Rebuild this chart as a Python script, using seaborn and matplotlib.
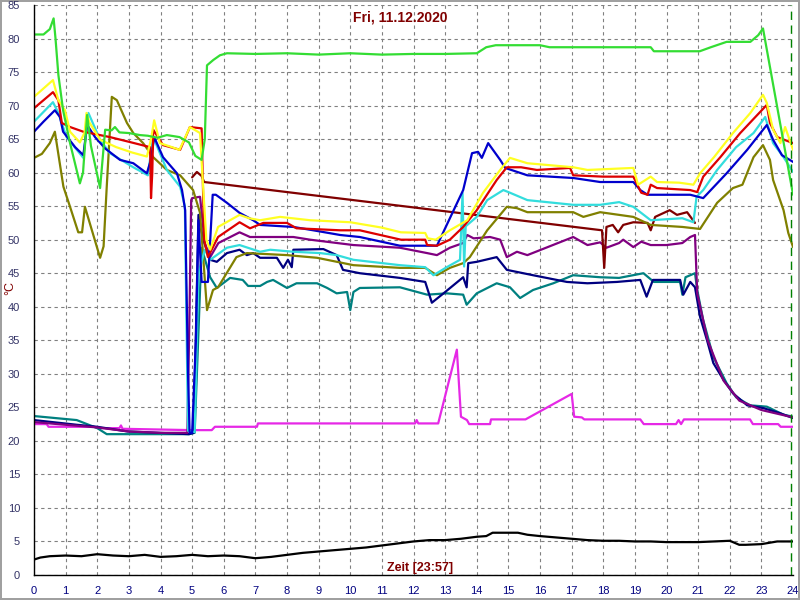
import numpy as np
import pandas as pd
import matplotlib.pyplot as plt
import matplotlib.ticker as mticker
import seaborn as sns

# Zeitachse in Stunden, Werte in Grad C

gruen_t = [0, 0.3, 0.5, 0.62, 0.68, 0.77, 0.92, 1.14, 1.45, 1.55, 1.68, 1.8, 2.09, 2.25, 2.45, 2.56, 2.7, 3.0, 3.35, 3.6, 3.9, 4.2, 4.6, 4.9, 5.1, 5.3, 5.4, 5.47, 5.67, 5.88, 6.1, 7.0, 8.0, 9.0, 10.0, 11.0, 12.0, 13.0, 14.0, 14.3, 14.6, 16.0, 16.3, 17.0, 19.5, 19.6, 21.05, 21.4, 21.9, 22.65, 22.9, 23.05, 24.0]
gruen_v = [80.6, 80.6, 81.4, 83.0, 80.0, 74.6, 69.3, 64.4, 58.4, 60.0, 68.6, 64.0, 57.7, 66.4, 66.3, 66.8, 66.0, 65.9, 65.6, 65.5, 65.2, 65.6, 65.3, 64.5, 62.5, 61.9, 65.0, 76.0, 76.8, 77.5, 77.8, 77.7, 77.8, 77.6, 77.8, 77.6, 77.7, 77.7, 77.8, 78.7, 79.0, 79.0, 78.7, 78.7, 78.7, 78.1, 78.1, 78.7, 79.5, 79.5, 80.5, 81.5, 56.7]

gelb_t = [0, 0.6, 0.77, 0.98, 1.14, 1.45, 1.6, 1.66, 1.75, 2.09, 2.6, 3.1, 3.57, 3.7, 3.8, 3.98, 4.3, 4.6, 4.93, 5.25, 5.32, 5.45, 5.57, 5.82, 6.5, 6.8, 7.15, 7.78, 8.73, 10.0, 11.0, 11.6, 12.37, 12.45, 12.7, 13.15, 13.7, 14.2, 14.74, 15.05, 15.6, 17.05, 17.5, 18.95, 19.1, 19.5, 19.7, 20.4, 20.85, 21.06, 21.5, 22.1, 22.65, 23.05, 23.17, 23.37, 23.6, 23.75, 24.0]
gelb_v = [71.3, 73.8, 70.8, 69.3, 66.1, 64.5, 66.0, 68.9, 67.5, 64.9, 63.8, 63.0, 62.4, 65.0, 67.8, 64.4, 63.9, 63.4, 66.8, 65.9, 60.0, 50.0, 48.5, 51.9, 53.7, 53.2, 52.9, 53.4, 52.9, 52.6, 51.8, 51.1, 51.0, 50.2, 50.0, 51.4, 52.9, 57.0, 60.4, 62.2, 61.4, 60.8, 60.4, 60.7, 58.2, 59.4, 58.6, 58.5, 58.2, 59.9, 62.3, 65.9, 68.9, 71.6, 70.4, 66.4, 64.4, 66.8, 63.4]

rot_t = [0, 0.6, 0.77, 0.88, 1.14, 1.56, 2.4, 3.0, 3.67, 3.7, 3.74, 3.77, 4.08, 4.62, 4.93, 5.3, 5.38, 5.5, 5.82, 6.5, 6.83, 7.25, 8.0, 8.3, 9.68, 10.3, 11.6, 12.37, 12.43, 12.74, 13.15, 13.57, 14.0, 14.63, 14.95, 15.4, 15.9, 16.95, 17.05, 18.0, 18.95, 19.2, 19.4, 19.5, 19.7, 20.75, 20.97, 21.16, 21.7, 22.33, 22.87, 23.17, 23.27, 23.5, 24.0]
rot_v = [69.6, 72.0, 70.8, 67.4, 66.8, 66.1, 65.3, 64.6, 63.8, 56.2, 60.0, 66.4, 64.1, 63.4, 66.8, 66.6, 50.0, 47.4, 50.4, 52.6, 51.7, 52.5, 52.5, 51.7, 51.4, 51.4, 50.0, 50.0, 49.2, 49.1, 50.0, 51.9, 54.4, 58.9, 60.8, 60.8, 60.4, 60.7, 59.6, 59.4, 59.4, 57.0, 56.7, 58.2, 57.7, 57.4, 57.1, 59.4, 62.3, 65.9, 68.6, 70.1, 67.4, 65.3, 64.4]

cyan_t = [0, 0.6, 0.77, 1.03, 1.56, 1.72, 2.09, 2.4, 3.14, 3.6, 3.7, 3.77, 4.2, 4.62, 4.77, 4.87, 5.08, 5.2, 5.4, 5.57, 6.1, 6.5, 7.15, 7.47, 8.2, 9.05, 9.57, 10.1, 11.57, 12.37, 12.63, 13.05, 13.47, 13.55, 13.6, 13.65, 14.0, 14.33, 14.84, 15.05, 15.6, 17.05, 17.9, 18.5, 18.95, 19.5, 20.5, 20.85, 20.95, 21.16, 21.6, 22.2, 22.75, 23.12, 23.37, 23.7, 24.0]
cyan_v = [67.6, 70.5, 68.9, 65.3, 62.2, 68.9, 64.9, 62.9, 60.8, 59.6, 63.0, 65.3, 60.4, 57.9, 55.0, 21.5, 21.3, 45.0, 48.5, 47.0, 48.8, 49.2, 48.2, 48.5, 48.2, 48.0, 47.7, 47.0, 46.2, 45.9, 44.7, 45.9, 47.0, 57.0, 46.0, 52.0, 53.4, 55.9, 57.4, 57.0, 55.9, 55.2, 55.2, 55.6, 54.9, 52.9, 53.2, 52.6, 56.4, 57.4, 60.4, 63.8, 65.9, 68.3, 64.4, 62.3, 60.1]

blau_t = [0, 0.3, 0.66, 0.82, 0.92, 1.3, 1.56, 1.68, 1.93, 2.25, 2.72, 3.14, 3.57, 3.7, 3.8, 4.08, 4.52, 4.68, 4.78, 4.87, 4.92, 5.0, 5.12, 5.2, 5.3, 5.5, 5.65, 5.75, 6.1, 6.5, 6.93, 7.15, 8.2, 8.83, 9.68, 10.3, 11.57, 12.74, 13.57, 13.85, 14.04, 14.16, 14.36, 14.74, 14.9, 15.6, 17.05, 17.9, 18.95, 19.17, 19.4, 20.75, 21.16, 21.9, 22.55, 23.17, 23.37, 23.65, 24.0]
blau_v = [66.1, 67.6, 69.3, 68.3, 66.1, 63.8, 62.6, 67.1, 65.3, 63.6, 61.9, 61.4, 59.9, 62.0, 65.3, 62.3, 59.9, 57.4, 54.4, 30.0, 21.2, 21.2, 35.0, 52.9, 43.7, 43.7, 56.7, 56.7, 55.5, 54.0, 52.9, 52.2, 51.9, 51.4, 50.7, 50.4, 49.1, 49.1, 57.4, 62.9, 63.1, 62.2, 64.4, 61.9, 60.7, 59.6, 59.2, 58.6, 58.6, 57.4, 56.7, 56.7, 56.2, 59.9, 63.4, 67.1, 64.9, 62.6, 61.6]

oliv_t = [0, 0.25, 0.5, 0.66, 0.93, 1.14, 1.4, 1.52, 1.61, 2.09, 2.2, 2.3, 2.46, 2.62, 2.94, 3.14, 3.45, 3.77, 4.2, 4.62, 5.03, 5.25, 5.47, 5.66, 5.82, 6.4, 6.73, 8.0, 8.95, 10.1, 11.57, 12.37, 12.74, 13.15, 13.57, 13.78, 14.33, 14.95, 15.27, 15.6, 17.05, 17.37, 17.9, 18.95, 19.5, 20.5, 21.06, 21.6, 22.1, 22.4, 22.75, 23.05, 23.27, 23.37, 23.7, 23.85, 24.0]
oliv_v = [62.2, 62.8, 64.4, 66.1, 57.9, 54.9, 51.1, 51.1, 54.9, 47.3, 49.0, 57.9, 71.3, 70.8, 67.4, 65.9, 64.4, 62.3, 60.4, 59.6, 57.4, 54.0, 39.5, 42.5, 42.9, 47.4, 48.0, 47.7, 47.3, 46.2, 45.8, 45.8, 44.7, 45.8, 46.5, 47.4, 51.4, 54.9, 54.7, 54.1, 54.1, 53.4, 54.1, 53.4, 52.2, 51.9, 51.6, 55.5, 57.7, 58.2, 62.3, 64.1, 61.9, 58.9, 54.4, 51.0, 48.9]

braun_t = [5.0, 5.15, 5.3, 5.38, 17.96, 18.03, 18.1, 18.3, 18.47, 18.63, 18.95, 19.4, 19.5, 19.64, 20.1, 20.33, 20.65, 20.9]
braun_v = [59.3, 60.1, 59.5, 58.6, 51.4, 45.8, 51.9, 52.2, 51.1, 52.2, 52.6, 52.5, 51.4, 53.4, 54.4, 53.7, 54.1, 52.5]

lila_t = [0, 1.0, 2.0, 3.0, 4.0, 4.85, 4.92, 4.97, 5.0, 5.25, 5.4, 5.57, 5.83, 6.5, 6.83, 8.2, 8.73, 10.1, 11.57, 12.43, 12.74, 13.15, 13.57, 13.7, 13.9, 14.42, 14.74, 14.95, 15.27, 15.6, 17.05, 17.5, 17.9, 18.1, 18.5, 18.63, 18.95, 19.2, 19.5, 20.0, 20.5, 20.75, 20.9, 20.97, 21.3, 21.8, 22.3, 23.0, 24.0]
lila_v = [22.8, 22.4, 22.0, 21.4, 21.2, 21.2, 40.0, 55.9, 56.2, 56.4, 49.5, 47.4, 49.5, 51.1, 50.4, 50.4, 50.0, 49.2, 48.8, 48.0, 47.7, 48.8, 49.5, 50.7, 50.2, 50.4, 50.0, 47.4, 48.2, 47.7, 50.4, 49.2, 49.6, 48.8, 49.5, 50.0, 48.9, 49.7, 49.2, 49.2, 49.5, 50.4, 50.7, 42.0, 35.0, 29.0, 26.0, 24.6, 23.5]

navy_t = [0, 1.35, 2.0, 2.96, 4.9, 5.05, 5.2, 5.35, 5.57, 5.78, 6.1, 6.5, 6.73, 6.93, 7.15, 7.68, 7.88, 8.03, 8.15, 8.2, 9.15, 9.57, 9.77, 10.3, 11.57, 12.37, 12.58, 12.95, 13.57, 13.68, 13.73, 14.0, 14.63, 14.95, 15.78, 16.85, 17.5, 18.43, 19.17, 19.37, 19.57, 20.43, 20.53, 20.75, 20.9, 21.06, 21.28, 21.48, 21.8, 22.1, 22.55, 23.05, 23.6, 24.0]
navy_v = [23.1, 22.4, 22.1, 21.4, 21.0, 21.2, 53.7, 50.0, 47.0, 46.7, 48.0, 48.5, 47.7, 48.0, 47.3, 47.3, 45.8, 47.0, 45.9, 48.5, 48.6, 47.7, 45.5, 45.0, 44.3, 43.7, 40.6, 42.0, 44.4, 42.9, 46.5, 46.7, 47.4, 45.5, 44.7, 43.7, 43.5, 43.7, 44.0, 41.5, 44.0, 44.0, 41.8, 43.7, 42.9, 38.5, 35.0, 31.6, 29.1, 27.1, 25.3, 24.9, 24.1, 23.4]

teal_t = [0, 1.35, 2.0, 2.3, 4.9, 5.08, 5.3, 5.57, 5.78, 5.98, 6.2, 6.6, 6.77, 7.15, 7.37, 7.56, 8.0, 8.3, 8.95, 9.27, 9.57, 9.9, 10.0, 10.1, 10.3, 11.57, 12.43, 13.05, 13.57, 13.68, 14.0, 14.63, 15.05, 15.37, 15.78, 16.42, 17.05, 17.9, 18.5, 19.27, 19.6, 20.43, 20.5, 20.6, 20.9, 20.97, 21.16, 21.48, 21.9, 22.2, 22.64, 23.17, 23.7, 24.0]
teal_v = [23.7, 23.1, 21.9, 21.0, 21.0, 21.2, 48.8, 44.4, 42.8, 43.5, 44.3, 44.0, 43.1, 43.1, 43.7, 44.0, 42.8, 43.5, 43.5, 42.8, 42.0, 42.2, 39.5, 42.2, 42.8, 42.9, 41.8, 42.0, 41.8, 40.3, 42.0, 43.5, 42.9, 41.3, 42.5, 43.5, 44.7, 44.4, 44.3, 45.0, 43.7, 43.7, 41.8, 44.4, 45.0, 42.5, 38.0, 32.5, 28.6, 26.5, 25.3, 25.1, 23.9, 23.6]

magenta_t = [0, 0.4, 0.46, 1.9, 2.0, 2.7, 2.75, 2.8, 4.97, 5.62, 5.72, 7.05, 7.08, 12.05, 12.1, 12.15, 12.78, 13.37, 13.5, 13.69, 13.76, 14.42, 14.45, 15.54, 17.0, 17.08, 17.32, 17.4, 19.17, 19.28, 20.3, 20.38, 20.46, 20.55, 22.64, 22.73, 23.53, 23.61, 24.0]
magenta_v = [22.5, 22.5, 22.1, 22.1, 21.9, 21.9, 22.3, 21.8, 21.6, 21.6, 22.1, 22.1, 22.6, 22.6, 23.1, 22.6, 22.6, 33.6, 23.6, 23.1, 22.5, 22.5, 23.2, 23.2, 27.0, 23.6, 23.5, 23.2, 23.2, 22.5, 22.5, 23.1, 22.5, 23.2, 23.2, 22.5, 22.5, 22.1, 22.1]

aussen_t = [0, 0.2, 0.5, 1, 1.5, 2, 2.5, 3, 3.5, 4, 4.5, 5, 5.5, 6, 6.5, 7, 7.5, 8, 8.5, 9, 9.5, 10, 10.5, 11, 11.5, 12, 12.5, 13, 13.5, 14, 14.3, 14.5, 15, 15.3, 15.6, 16, 16.5, 17, 17.5, 18, 18.5, 19, 19.5, 20, 20.5, 21, 21.5, 22, 22.3, 22.5, 23, 23.5, 24]
aussen_v = [2.3, 2.6, 2.8, 2.9, 2.8, 3.1, 2.9, 2.8, 3.0, 2.7, 2.8, 3.0, 2.8, 2.9, 2.8, 2.5, 2.7, 3.0, 3.3, 3.5, 3.7, 3.9, 4.1, 4.4, 4.7, 5.0, 5.2, 5.2, 5.4, 5.7, 5.8, 6.3, 6.3, 6.3, 6.0, 5.8, 5.6, 5.4, 5.2, 5.1, 5.1, 5.0, 5.0, 4.9, 4.9, 4.9, 5.0, 5.1, 4.5, 4.5, 4.6, 5.0, 5.0]

serien = [
    (aussen_t, aussen_v, "black"),
    (magenta_t, magenta_v, "#e628e6"),
    (teal_t, teal_v, "#008080"),
    (navy_t, navy_v, "#000080"),
    (lila_t, lila_v, "#800080"),
    (braun_t, braun_v, "#800000"),
    (oliv_t, oliv_v, "#808000"),
    (cyan_t, cyan_v, "#33dddd"),
    (blau_t, blau_v, "#0000cc"),
    (rot_t, rot_v, "#dd0000"),
    (gelb_t, gelb_v, "#ffff22"),
    (gruen_t, gruen_v, "#33dd33"),
]

sns.set_style("white")
plt.rcParams["font.family"] = ["Liberation Sans Narrow", "Liberation Sans", "DejaVu Sans"]

fig = plt.figure(figsize=(8, 6), dpi=100)
fig.patch.set_edgecolor("#a0a0a0")
fig.patch.set_linewidth(1.5)
ax = fig.add_axes([0.0425, 0.0417, 0.9488, 0.95])

for t, v, farbe in serien:
    df = pd.DataFrame({"zeit": t, "temp": v})
    sns.lineplot(data=df, x="zeit", y="temp", color=farbe, lw=1.6,
                 estimator=None, sort=False, ax=ax)

ax.axvline(23.95, color="#008000", ls=(0, (6, 4)), lw=1)

ax.set_xlim(0, 24)
ax.set_ylim(0, 85)
ax.xaxis.set_major_locator(mticker.MultipleLocator(1))
ax.xaxis.set_minor_locator(mticker.MultipleLocator(1 / 6))
ax.yaxis.set_major_locator(mticker.MultipleLocator(5))
ax.yaxis.set_minor_locator(mticker.MultipleLocator(1))
ax.grid(True, which="major", ls=(0, (3, 3)), color="#808080", lw=0.8)
ax.set_axisbelow(True)

ax.tick_params(axis="x", which="major", direction="out", length=6, width=1,
               labelsize=8, labelcolor="#000080", pad=2)
ax.tick_params(axis="x", which="minor", direction="out", length=4, width=1)
ax.tick_params(axis="y", which="major", direction="out", length=8, width=1,
               labelsize=8, labelcolor="#333366", pad=2)
ax.tick_params(axis="y", which="minor", direction="out", length=4, width=1)

for s in ["top", "right"]:
    ax.spines[s].set_visible(False)
for s in ["left", "bottom"]:
    ax.spines[s].set_color("black")
    ax.spines[s].set_linewidth(1)

ax.set_xlabel("")
ax.set_ylabel("")

fig.text(0.5, 0.97, "Fri, 11.12.2020", color="#800000", fontsize=10,
         fontweight="bold", ha="center", va="center")
fig.text(0.525, 0.053, "Zeit [23:57]", color="#800000", fontsize=9,
         fontweight="bold", ha="center", va="center")
fig.text(0.0125, 0.52, "°C", color="#800000", fontsize=9,
         rotation=90, ha="center", va="center")

fig.savefig("out.png", dpi=100, facecolor="white", edgecolor=fig.get_edgecolor())
